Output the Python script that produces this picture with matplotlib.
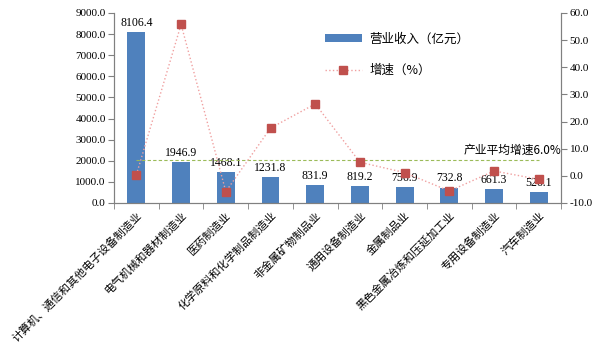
import matplotlib
matplotlib.use("Agg")
import matplotlib.pyplot as plt
import matplotlib.transforms as mtransforms
import numpy as np

plt.rcParams['font.family'] = ['Noto Sans CJK SC', 'DejaVu Sans']

categories = ["计算机、通信和其他电子设备制造业", "电气机械和器材制造业", "医药制造业",
              "化学原料和化学制品制造业", "非金属矿物制品业", "通用设备制造业",
              "金属制品业", "黑色金属冶炼和压延加工业", "专用设备制造业", "汽车制造业"]
revenue = [8106.4, 1946.9, 1468.1, 1231.8, 831.9, 819.2, 756.9, 732.8, 661.3, 526.1]
growth = [0.4, 55.8, -5.8, 17.6, 26.5, 5.0, 1.2, -5.6, 1.8, -1.3]
avg_growth = 6.0

serif = ['Liberation Serif', 'DejaVu Serif']
fig = plt.figure(figsize=(5.97, 3.51), dpi=100)
ax = fig.add_axes([0.191, 0.4217, 0.749, 0.5413])
x = np.arange(len(categories))
bars = ax.bar(x, revenue, width=0.4, color='#4F81BD', label='营业收入（亿元）', zorder=2)
ax.set_xlim(-0.5, len(categories) - 0.5)
ax.set_ylim(0, 9000)
ax.set_yticks(np.arange(0, 9001, 1000))
ax.set_yticklabels([f"{v:.1f}" for v in np.arange(0, 9001, 1000)], fontfamily=serif, fontsize=8)
for xi, v in zip(x, revenue):
    ax.text(xi, v + 150, f"{v:.1f}", ha='center', va='bottom', fontsize=8.5, fontfamily=serif, zorder=5)

ax.set_xticks(x)
ax.set_xticklabels(categories, rotation=45, ha='right', va='top', rotation_mode='anchor', fontsize=8)
offset = mtransforms.ScaledTranslation(4 / 100, 0, fig.dpi_scale_trans)
for lbl in ax.get_xticklabels():
    lbl.set_transform(lbl.get_transform() + offset)
ax.tick_params(axis='x', length=0, pad=5)
ax.set_xticks(np.arange(-0.5, len(categories) + 0.5, 1), minor=True)
ax.tick_params(axis='x', which='minor', length=4, color='#808080', direction='out')
ax.tick_params(axis='y', length=4, color='#808080', direction='out', pad=2)

ax.spines['top'].set_visible(False)
for s in ['left', 'right', 'bottom']:
    ax.spines[s].set_color('#808080')

ax2 = ax.twinx()
ax2.set_ylim(-10, 60)
ax2.set_yticks(np.arange(-10, 61, 10))
ax2.set_yticklabels([f"{v:.1f}" for v in np.arange(-10, 61, 10)], fontfamily=serif, fontsize=8)
ax2.tick_params(axis='y', length=4, color='#808080', direction='out', pad=2)
ax2.spines['top'].set_visible(False)
for s in ['left', 'right', 'bottom']:
    ax2.spines[s].set_color('#808080')
line, = ax2.plot(x, growth, linestyle=':', color='#F0A0A0', linewidth=1,
                 marker='s', markersize=6, markerfacecolor='#C0504D', markeredgecolor='#C0504D',
                 label='增速（%）', zorder=3)
ax2.plot([x[0], x[-1]], [avg_growth, avg_growth], linestyle='--', color='#9BBB59', linewidth=0.8,
         dashes=(3, 2), zorder=1)
ax2.text(x[-1] + 0.5, avg_growth + 0.9, f"产业平均增速{avg_growth:.1f}%", ha='right', va='bottom', fontsize=8.5)

fig.legend(handles=[bars, line], labels=['营业收入（亿元）', '增速（%）'],
           loc='upper left', bbox_to_anchor=(0.525, 0.94), frameon=False, fontsize=9,
           handlelength=3.0, handletextpad=0.6, labelspacing=1.5)

fig.savefig('out.png', dpi=100)
